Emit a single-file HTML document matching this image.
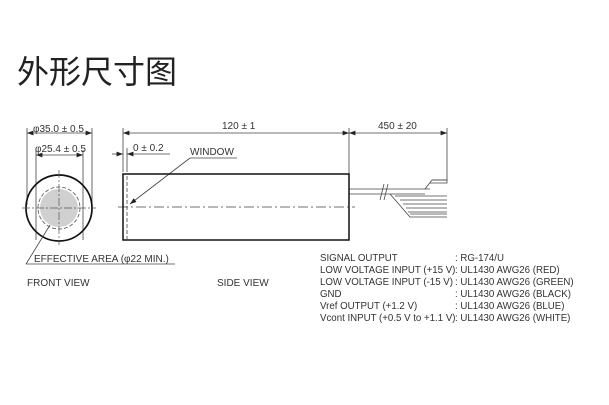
<!DOCTYPE html>
<html><head><style>
body{margin:0;background:#fff;width:609px;height:400px;overflow:hidden}
svg text{font-family:"Liberation Sans",Arial,sans-serif;fill:#333}
</style></head><body>
<svg width="609" height="400" xmlns="http://www.w3.org/2000/svg">
<text x="17" y="83" style="font-family:'Liberation Sans','Noto Sans CJK SC',sans-serif;font-size:32px;fill:#222">外形尺寸图</text>
<defs><marker id="a" markerWidth="8" markerHeight="6" refX="8" refY="3" orient="auto-start-reverse"><path d="M0,0L8,3L0,6z" fill="#222"/></marker></defs>
<g stroke="#444" stroke-width="0.8" fill="none">
<line x1="27" y1="128" x2="27" y2="205"/><line x1="92" y1="128" x2="92" y2="205"/>
<line x1="27" y1="133" x2="92" y2="133" marker-start="url(#a)" marker-end="url(#a)"/>
<line x1="36" y1="150" x2="36" y2="240"/><line x1="83" y1="150" x2="83" y2="240"/>
<line x1="36" y1="155" x2="83" y2="155" marker-start="url(#a)" marker-end="url(#a)"/>
</g>
<circle cx="59" cy="208" r="19" fill="#d0d0d0"/>
<circle cx="59" cy="208" r="21" fill="none" stroke="#555" stroke-width="0.8" stroke-dasharray="4,2"/>
<circle cx="59" cy="208" r="33" fill="none" stroke="#111" stroke-width="1.7"/>
<line x1="59" y1="170" x2="59" y2="245" stroke="#555" stroke-width="0.7" stroke-dasharray="8,2,2,2"/>
<line x1="22" y1="208" x2="96" y2="208" stroke="#555" stroke-width="0.7" stroke-dasharray="8,2,2,2"/>
<g stroke="#444" stroke-width="0.8" fill="none">
<line x1="26" y1="264" x2="50" y2="225"/>
<line x1="26" y1="264" x2="175" y2="264"/>
<line x1="123" y1="128" x2="123" y2="172"/>
<line x1="349" y1="128" x2="349" y2="188"/>
<line x1="123" y1="133" x2="349" y2="133" marker-start="url(#a)" marker-end="url(#a)"/>
<line x1="127" y1="148" x2="127" y2="172"/>
<line x1="112" y1="154" x2="123" y2="154" marker-end="url(#a)"/>
<line x1="170" y1="154" x2="127" y2="154" marker-end="url(#a)"/>
<line x1="349" y1="133" x2="447" y2="133" marker-start="url(#a)" marker-end="url(#a)"/>
<line x1="447" y1="128" x2="447" y2="180"/>
<line x1="237" y1="158" x2="190" y2="158"/>
<line x1="190" y1="158" x2="130" y2="204" marker-end="url(#a)"/>
<line x1="127" y1="176" x2="127" y2="239" stroke-dasharray="4,2"/>
<line x1="118" y1="207" x2="355" y2="207" stroke-dasharray="10,3,2,3"/>
<line x1="349" y1="189" x2="430" y2="189"/><line x1="349" y1="194" x2="425" y2="194"/>
<line x1="380" y1="200" x2="384" y2="184"/><line x1="384" y1="200" x2="388" y2="184"/>
<path d="M425 189 L432 180 L447 180"/><path d="M432 180 L447 180 L447 183 L430 183"/>
<path d="M390 194 L410 217 L447 217"/>
<line x1="395" y1="196" x2="447" y2="196"/><line x1="400" y1="200" x2="447" y2="200"/>
<line x1="403" y1="204" x2="447" y2="204"/><line x1="406" y1="208" x2="447" y2="208"/>
<line x1="408" y1="212" x2="447" y2="212"/><line x1="410" y1="214" x2="447" y2="214"/>
</g>
<rect x="123" y="174" width="226" height="66" fill="none" stroke="#111" stroke-width="1.5"/>
<g font-size="10">
<text x="33" y="132">φ35.0 ± 0.5</text>
<text x="35" y="152">φ25.4 ± 0.5</text>
<text x="222" y="129">120 ± 1</text>
<text x="378" y="129">450 ± 20</text>
<text x="133" y="151">0 ± 0.2</text>
<text x="190" y="155">WINDOW</text>
<text x="34" y="262">EFFECTIVE AREA (φ22 MIN.)</text>
<text x="27" y="286">FRONT VIEW</text>
<text x="217" y="286">SIDE VIEW</text>
</g>
<g font-size="9.7">
<text x="320" y="261">SIGNAL OUTPUT</text><text x="455" y="261">: RG-174/U</text>
<text x="320" y="273">LOW VOLTAGE INPUT (+15 V)</text><text x="455" y="273">: UL1430 AWG26 (RED)</text>
<text x="320" y="285">LOW VOLTAGE INPUT (-15 V)</text><text x="455" y="285">: UL1430 AWG26 (GREEN)</text>
<text x="320" y="297">GND</text><text x="455" y="297">: UL1430 AWG26 (BLACK)</text>
<text x="320" y="309">Vref OUTPUT (+1.2 V)</text><text x="455" y="309">: UL1430 AWG26 (BLUE)</text>
<text x="320" y="321">Vcont INPUT (+0.5 V to +1.1 V)</text><text x="455" y="321">: UL1430 AWG26 (WHITE)</text>
</g>
</svg>
</body></html>
